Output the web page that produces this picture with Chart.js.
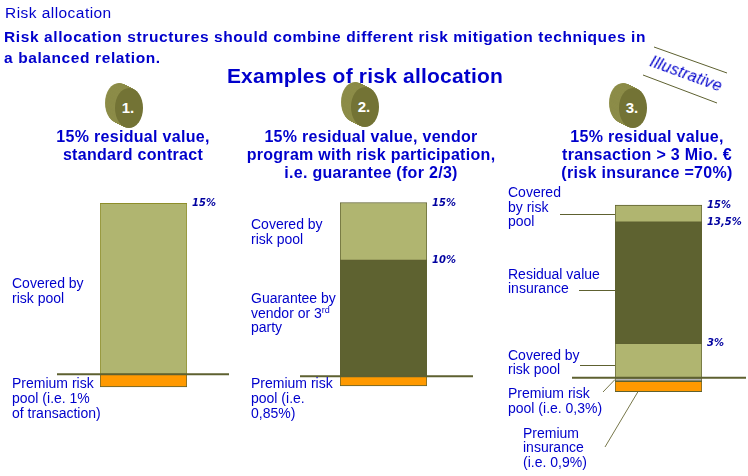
<!DOCTYPE html>
<html><head><meta charset="utf-8">
<script src="https://cdn.jsdelivr.net/npm/chart.js@4.4.1/dist/chart.umd.min.js"></script>
<style>
html,body{margin:0;padding:0;background:#fff;width:748px;height:476px;overflow:hidden;}
#stage{position:relative;width:748px;height:476px;font-family:"Liberation Sans",Arial,sans-serif;color:#0000CC;}
canvas.col{position:absolute;left:0;top:0;}
.t{position:absolute;white-space:nowrap;}
.t sup{font-size:9px;line-height:0;vertical-align:5px;}
#deco{position:absolute;left:0;top:0;}
</style></head><body><div id="stage">
<svg id="deco" width="748" height="476" xmlns="http://www.w3.org/2000/svg"></svg>
<canvas id="c1" class="col" width="748" height="476"></canvas>
<canvas id="c2" class="col" width="748" height="476"></canvas>
<canvas id="c3" class="col" width="748" height="476"></canvas>
</div>
<script>
// ---------- DATA ----------
const pageTitle = 'Risk allocation';
const subtitleLines = ['Risk allocation structures should combine different risk mitigation techniques in', 'a balanced relation.'];
const mainTitle = 'Examples of risk allocation';
const stampText = 'Illustrative';
const exampleNumbers = ['1.', '2.', '3.'];
const captionLines1 = ['15% residual value,', 'standard contract'];
const captionLines2 = ['15% residual value, vendor', 'program with risk participation,', 'i.e. guarantee (for 2/3)'];
const captionLines3 = ['15% residual value,', 'transaction > 3 Mio. €', '(risk insurance =70%)'];

// segments: [from %, to %]
const example1Segments = ['Covered by risk pool', 'Premium risk pool'];
const example1Ranges = [[0, 15], [-1.1, 0]];
const example2Segments = ['Covered by risk pool', 'Guarantee by vendor or 3rd party', 'Premium risk pool'];
const example2Ranges = [[10, 15], [0, 10], [-0.85, 0]];
const example3Segments = ['Covered by risk pool (top)', 'Residual value insurance', 'Covered by risk pool', 'Premium risk pool', 'Premium insurance'];
const example3Ranges = [[13.5, 15], [3, 13.5], [0, 3], [-0.3, 0], [-1.2, -0.3]];

// value marks (tick labels) beside each bar
const example1Marks = [15];
const example2Marks = [15, 10];
const example3Marks = [15, 13.5, 3];

// ---------- STYLES / LAYOUT ----------
const LIGHT = '#B0B570', DARK = '#5E6230', ORANGE = '#FF9900', GREY = '#B4B4B4', EDGE = '#5E6130';
const ex1Colors = [LIGHT, ORANGE], ex1Borders = ['#8E8E2A', EDGE];
const ex2Colors = [LIGHT, DARK, ORANGE], ex2Borders = [EDGE, EDGE, EDGE];
const ex3Colors = [LIGHT, DARK, LIGHT, GREY, ORANGE], ex3Borders = [EDGE, EDGE, EDGE, EDGE, EDGE];

const W = 748, H = 476;

const annot = {
  id: 'annot',
  afterDatasetsDraw(chart, args, o) {
    const ctx = chart.ctx, ys = chart.scales.y, ca = chart.chartArea;
    ctx.save();
    // leader lines
    ctx.strokeStyle = EDGE; ctx.lineWidth = 1;
    (o.leaders || []).forEach(l => {
      const yy = Math.round(ys.getPixelForValue(l.value)) + 0.5;
      ctx.beginPath(); ctx.moveTo(l.fromX, yy); ctx.lineTo(ca.left, yy); ctx.stroke();
    });
    ctx.strokeStyle = '#77774A';
    (o.diagonals || []).forEach(d => {
      ctx.beginPath(); ctx.moveTo(d.fromX, d.fromY);
      ctx.lineTo(d.toX, ys.getPixelForValue(d.value)); ctx.stroke();
    });
    // baseline
    const y0 = ys.getPixelForValue(0);
    ctx.strokeStyle = EDGE; ctx.lineWidth = 2;
    ctx.beginPath(); ctx.moveTo(o.lineFrom, y0); ctx.lineTo(o.lineTo, y0); ctx.stroke();
    // marks
    ctx.font = 'italic bold 10px "DejaVu Sans"';
    ctx.fillStyle = '#0000A0'; ctx.textBaseline = 'middle'; ctx.textAlign = 'left';
    o.marks.forEach(v => ctx.fillText(String(v).replace('.', ',') + '%', ca.right + 5, ys.getPixelForValue(v) + 0.5));
    ctx.restore();
  }
};

function makeColumn(id, num, names, ranges, colors, borders, marks, lay) {
  new Chart(document.getElementById(id), {
    type: 'bar',
    data: {
      labels: [num],
      datasets: ranges.map((r, i) => ({
        label: names[i], data: [r],
        backgroundColor: colors[i], borderColor: borders[i], borderWidth: 1,
        borderSkipped: false, categoryPercentage: 1, barPercentage: 1
      }))
    },
    options: {
      responsive: false, animation: false, devicePixelRatio: 1,
      layout: { padding: { left: lay.barLeft, right: W - lay.barRight, top: 0, bottom: 0 } },
      plugins: {
        legend: { display: false }, tooltip: { enabled: false },
        annot: { marks, lineFrom: lay.lineFrom, lineTo: lay.lineTo, leaders: lay.leaders, diagonals: lay.diagonals }
      },
      scales: {
        x: { display: false, stacked: true },
        y: { display: false, min: -(H - lay.baseY) / lay.px, max: lay.baseY / lay.px }
      }
    },
    plugins: [annot]
  });
}

makeColumn('c1', exampleNumbers[0], example1Segments, example1Ranges, ex1Colors, ex1Borders, example1Marks,
  { barLeft: 100, barRight: 187, baseY: 374.3, px: 11.4, lineFrom: 57, lineTo: 229 });
makeColumn('c2', exampleNumbers[1], example2Segments, example2Ranges, ex2Colors, ex2Borders, example2Marks,
  { barLeft: 340, barRight: 427, baseY: 376.2, px: 11.58, lineFrom: 300, lineTo: 473 });
makeColumn('c3', exampleNumbers[2], example3Segments, example3Ranges, ex3Colors, ex3Borders, example3Marks,
  { barLeft: 615, barRight: 702, baseY: 377.8, px: 11.52, lineFrom: 572, lineTo: 746,
    leaders: [{ value: 14.25, fromX: 560 }, { value: 7.6, fromX: 579 }, { value: 1.1, fromX: 580 }],
    diagonals: [{ fromX: 603, fromY: 392, toX: 615, value: -0.15 }, { fromX: 605, fromY: 447, toX: 638, value: -1.2 }] });

// ---------- TEXT ----------
const stage = document.getElementById('stage');
function put(html, x, base, o) {
  o = o || {};
  const fs = o.fs || 14;
  const d = document.createElement('div');
  d.className = 't';
  d.innerHTML = html;
  d.style.fontSize = fs + 'px';
  d.style.lineHeight = fs + 'px';
  d.style.fontWeight = o.bold ? 'bold' : 'normal';
  if (o.italic) d.style.fontStyle = 'italic';
  if (o.ls) d.style.letterSpacing = o.ls + 'px';
  d.style.left = x + 'px';
  d.style.top = (base - 0.8465 * fs) + 'px';
  if (o.center) d.style.transform = 'translateX(-50%)';
  stage.appendChild(d);
  return d;
}
function lines(arr, x, base, step, o) { arr.forEach((s, i) => put(s, x, base + i * step, o)); }

put(pageTitle, 5, 18, { fs: 15.5, ls: 0.45 });
lines(subtitleLines, 4, 42, 21, { fs: 15.5, bold: true, ls: 0.6 });
put(mainTitle, 365, 83, { fs: 21, bold: true, ls: 0.2, center: true });

lines(captionLines1, 133, 143, 17.6, { fs: 16, bold: true, ls: 0.3, center: true });
lines(captionLines2, 371, 143, 17.6, { fs: 16, bold: true, ls: 0.3, center: true });
lines(captionLines3, 647, 143, 17.6, { fs: 16, bold: true, ls: 0.3, center: true });

// column 1 labels
lines(['Covered by', 'risk pool'], 12, 288, 14.7);
lines(['Premium risk', 'pool (i.e. 1%', 'of transaction)'], 12, 388, 15);
// column 2 labels
lines(['Covered by', 'risk pool'], 251, 229, 14.5);
lines(['Guarantee by', 'vendor or 3<sup>rd</sup>', 'party'], 251, 303, 14.6);
lines(['Premium risk', 'pool (i.e.', '0,85%)'], 251, 388, 15);
// column 3 labels
lines(['Covered', 'by risk', 'pool'], 508, 197, 14.5);
lines(['Residual value', 'insurance'], 508, 279, 13.5);
lines(['Covered by', 'risk pool'], 508, 360, 14.2);
lines(['Premium risk', 'pool (i.e. 0,3%)'], 508, 398, 14.8);
lines(['Premium', 'insurance', '(i.e. 0,9%)'], 523, 438, 14.2);

// stamp
const st = put(stampText, 686, 80, { fs: 16, italic: true, ls: 0.3 });
st.style.transform = 'translateX(-50%) rotate(20deg)';

// ---------- DECORATION (coins, stamp lines) ----------
const svg = document.getElementById('deco');
const NS = 'http://www.w3.org/2000/svg';
function el(tag, attrs) { const e = document.createElementNS(NS, tag); for (const k in attrs) e.setAttribute(k, attrs[k]); svg.appendChild(e); return e; }
const coinCenters = [[129, 108], [365, 107], [633, 108]];
coinCenters.forEach((c, i) => {
  const [fx, fy] = c;
  for (let t = 1; t >= 0.05; t -= 0.05) {
    el('ellipse', { cx: fx - 10 * t, cy: fy - 5 * t, rx: 14, ry: 20, fill: t > 0.95 ? '#9A9A58' : '#8C8C48' });
  }
  el('ellipse', { cx: fx, cy: fy, rx: 14, ry: 20, fill: '#737335' });
  const tx = el('text', { x: fx - 1, y: fy + 5, 'text-anchor': 'middle', fill: '#FFFFFF',
    'font-family': 'Liberation Sans, Arial, sans-serif', 'font-weight': 'bold', 'font-size': 15 });
  tx.textContent = exampleNumbers[i];
});
el('line', { x1: 654, y1: 47, x2: 727, y2: 73, stroke: '#5E6130', 'stroke-width': 1 });
el('line', { x1: 643, y1: 75, x2: 717, y2: 103, stroke: '#5E6130', 'stroke-width': 1 });
</script>
</body></html>
